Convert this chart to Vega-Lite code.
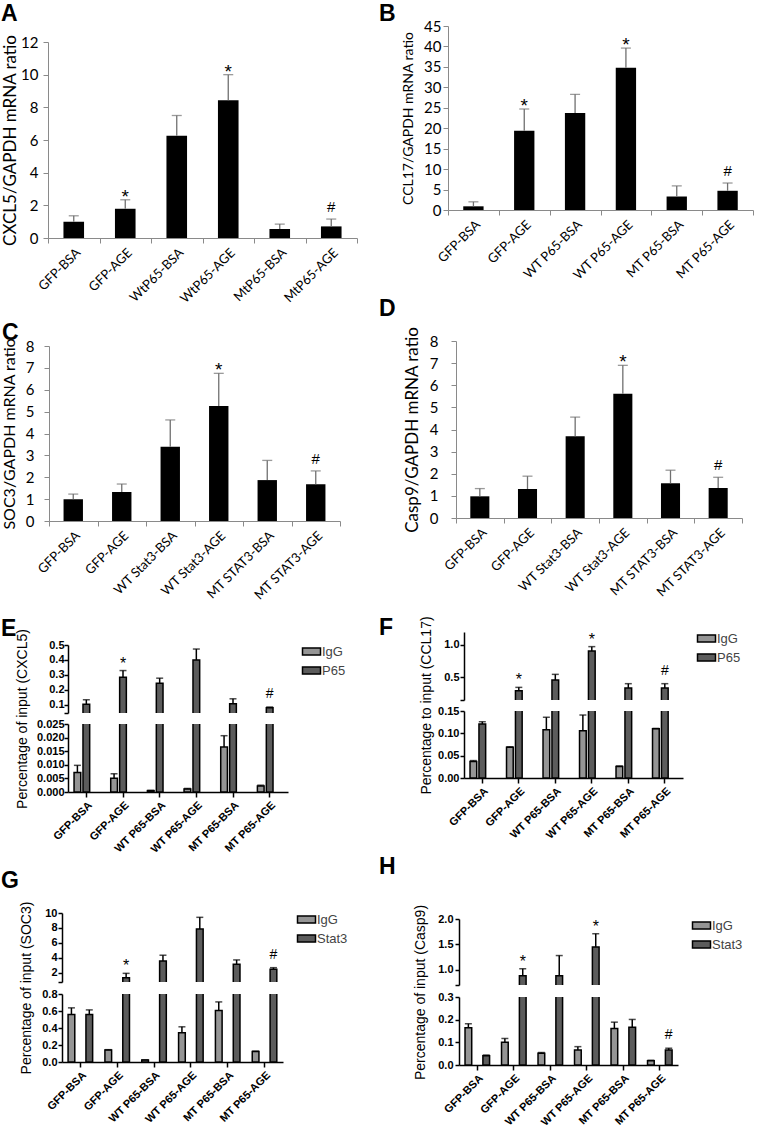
{
"$schema":"https://vega.github.io/schema/vega-lite/v6.json",
"padding":{"left":0,"top":2,"right":0,"bottom":0},
"background":"white",
"config":{"view":{"stroke":null},"axis":{"labelOverlap":false},"text":{"color":"black"}},
"datasets":{
"A":[{"g":"GFP-BSA","v":1.0,"e":1.36,"s":""},{"g":"GFP-AGE","v":1.79,"e":2.34,"s":"*"},{"g":"WtP65-BSA","v":6.26,"e":7.5,"s":""},{"g":"WtP65-AGE","v":8.43,"e":10.0,"s":"*"},{"g":"MtP65-BSA","v":0.55,"e":0.85,"s":""},{"g":"MtP65-AGE","v":0.71,"e":1.16,"s":"#"}],
"B":[{"g":"GFP-BSA","v":0.9,"e":2.0,"s":""},{"g":"GFP-AGE","v":19.4,"e":24.7,"s":"*"},{"g":"WT P65-BSA","v":23.7,"e":28.3,"s":""},{"g":"WT P65-AGE","v":34.8,"e":39.6,"s":"*"},{"g":"MT P65-BSA","v":3.3,"e":5.9,"s":""},{"g":"MT P65-AGE","v":4.7,"e":6.6,"s":"#"}],
"C":[{"g":"GFP-BSA","v":0.99,"e":1.23,"s":""},{"g":"GFP-AGE","v":1.33,"e":1.69,"s":""},{"g":"WT Stat3-BSA","v":3.4,"e":4.62,"s":""},{"g":"WT Stat3-AGE","v":5.26,"e":6.75,"s":"*"},{"g":"MT STAT3-BSA","v":1.87,"e":2.77,"s":""},{"g":"MT STAT3-AGE","v":1.68,"e":2.29,"s":"#"}],
"D":[{"g":"GFP-BSA","v":0.98,"e":1.33,"s":""},{"g":"GFP-AGE","v":1.31,"e":1.89,"s":""},{"g":"WT Stat3-BSA","v":3.7,"e":4.56,"s":""},{"g":"WT Stat3-AGE","v":5.62,"e":6.9,"s":"*"},{"g":"MT STAT3-BSA","v":1.57,"e":2.16,"s":""},{"g":"MT STAT3-AGE","v":1.36,"e":1.84,"s":"#"}],
"E":[{"g":"GFP-BSA","ab":"IgG","v":0.0072,"e":0.0098,"s":""},{"g":"GFP-BSA","ab":"P65","v":0.104,"e":0.133,"s":""},
{"g":"GFP-AGE","ab":"IgG","v":0.0051,"e":0.0067,"s":""},{"g":"GFP-AGE","ab":"P65","v":0.284,"e":0.329,"s":"*"},
{"g":"WT P65-BSA","ab":"IgG","v":0.0005,"e":0.0006,"s":""},{"g":"WT P65-BSA","ab":"P65","v":0.244,"e":0.278,"s":""},
{"g":"WT P65-AGE","ab":"IgG","v":0.0011,"e":0.0013,"s":""},{"g":"WT P65-AGE","ab":"P65","v":0.40,"e":0.473,"s":"*"},
{"g":"MT P65-BSA","ab":"IgG","v":0.0165,"e":0.0207,"s":""},{"g":"MT P65-BSA","ab":"P65","v":0.107,"e":0.14,"s":""},
{"g":"MT P65-AGE","ab":"IgG","v":0.0022,"e":0.0025,"s":""},{"g":"MT P65-AGE","ab":"P65","v":0.08,"e":0.085,"s":"#"}],
"F":[{"g":"GFP-BSA","ab":"IgG","v":0.037,"e":0.039,"s":""},{"g":"GFP-BSA","ab":"P65","v":0.121,"e":0.126,"s":""},
{"g":"GFP-AGE","ab":"IgG","v":0.069,"e":0.070,"s":""},{"g":"GFP-AGE","ab":"P65","v":0.294,"e":0.345,"s":"*"},
{"g":"WT P65-BSA","ab":"IgG","v":0.108,"e":0.136,"s":""},{"g":"WT P65-BSA","ab":"P65","v":0.459,"e":0.546,"s":""},
{"g":"WT P65-AGE","ab":"IgG","v":0.106,"e":0.141,"s":""},{"g":"WT P65-AGE","ab":"P65","v":0.907,"e":0.974,"s":"*"},
{"g":"MT P65-BSA","ab":"IgG","v":0.026,"e":0.027,"s":""},{"g":"MT P65-BSA","ab":"P65","v":0.335,"e":0.402,"s":""},
{"g":"MT P65-AGE","ab":"IgG","v":0.11,"e":0.111,"s":""},{"g":"MT P65-AGE","ab":"P65","v":0.335,"e":0.402,"s":"#"}],
"G":[{"g":"GFP-BSA","ab":"IgG","v":0.559,"e":0.637,"s":""},{"g":"GFP-BSA","ab":"Stat3","v":0.559,"e":0.613,"s":""},
{"g":"GFP-AGE","ab":"IgG","v":0.141,"e":0.145,"s":""},{"g":"GFP-AGE","ab":"Stat3","v":1.33,"e":1.91,"s":"*"},
{"g":"WT P65-BSA","ab":"IgG","v":0.023,"e":0.025,"s":""},{"g":"WT P65-BSA","ab":"Stat3","v":3.57,"e":4.34,"s":""},
{"g":"WT P65-AGE","ab":"IgG","v":0.344,"e":0.414,"s":""},{"g":"WT P65-AGE","ab":"Stat3","v":7.84,"e":9.42,"s":"*"},
{"g":"MT P65-BSA","ab":"IgG","v":0.605,"e":0.707,"s":""},{"g":"MT P65-BSA","ab":"Stat3","v":3.12,"e":3.71,"s":""},
{"g":"MT P65-AGE","ab":"IgG","v":0.125,"e":0.128,"s":""},{"g":"MT P65-AGE","ab":"Stat3","v":2.45,"e":2.67,"s":"#"}],
"H":[{"g":"GFP-BSA","ab":"IgG","v":0.164,"e":0.182,"s":""},{"g":"GFP-BSA","ab":"Stat3","v":0.041,"e":0.044,"s":""},
{"g":"GFP-AGE","ab":"IgG","v":0.1,"e":0.117,"s":""},{"g":"GFP-AGE","ab":"Stat3","v":0.884,"e":1.02,"s":"*"},
{"g":"WT P65-BSA","ab":"IgG","v":0.052,"e":0.055,"s":""},{"g":"WT P65-BSA","ab":"Stat3","v":0.884,"e":1.28,"s":""},
{"g":"WT P65-AGE","ab":"IgG","v":0.066,"e":0.081,"s":""},{"g":"WT P65-AGE","ab":"Stat3","v":1.45,"e":1.71,"s":"*"},
{"g":"MT P65-BSA","ab":"IgG","v":0.161,"e":0.189,"s":""},{"g":"MT P65-BSA","ab":"Stat3","v":0.167,"e":0.201,"s":""},
{"g":"MT P65-AGE","ab":"IgG","v":0.019,"e":0.021,"s":""},{"g":"MT P65-AGE","ab":"Stat3","v":0.066,"e":0.074,"s":"#"}]
},
"spacing":20,
"resolve":{"scale":{"fill":"independent"},"legend":{"fill":"independent"}},
"hconcat":[
{"spacing":0,"resolve":{"scale":{"fill":"independent"},"legend":{"fill":"independent"}},
 "vconcat":[
 {"width":1,"height":1,"data":{"values":[]},"mark":"point"},
 {"spacing":15,"resolve":{"scale":{"fill":"independent"},"legend":{"fill":"independent"}},
  "vconcat":[
  {"spacing":0,"hconcat":[
   {"width":1,"height":1,"data":{"values":[]},"mark":"point"},
   {"width":309,"height":196,
    "title":{"text":"A","anchor":"start","frame":"group","dx":-47,"offset":8,"fontSize":23,"font":"Liberation Sans","fontWeight":"bold","color":"black"},
    "data":{"name":"A"},
    "resolve":{"axis":{"y":"independent"}},
    "encoding":{"x":{"field":"g","type":"nominal","sort":null,"scale":{"paddingInner":0,"paddingOuter":0},"axis":{"title":null,"labelAngle":-45,"tickBand":"extent","domainColor":"#8a8a8a","tickColor":"#8a8a8a","tickSize":5,"labelFont":"Lato","labelFontSize":13,"labelColor":"black","labelPadding":3}}},
    "layer":[
     {"mark":{"type":"bar","color":"black","width":{"band":0.4}},"encoding":{"y":{"field":"v","type":"quantitative","scale":{"domain":[0,12],"nice":false},"axis":{"title":"CXCL5/GAPDH mRNA ratio","values":[0,2,4,6,8,10,12],"labelOverlap":false,"grid":false,"domainColor":"#8a8a8a","tickColor":"#8a8a8a","tickSize":5,"labelFont":"Lato","labelFontSize":15,"labelColor":"black","labelPadding":5,"titleFont":"Lato","titleFontSize":17,"titleFontWeight":"normal","titleColor":"black","titlePadding":1}}}},
     {"mark":{"type":"rule","color":"#707070","strokeWidth":1.3},"encoding":{"y":{"field":"v","type":"quantitative","axis":null},"y2":{"field":"e"}}},
     {"mark":{"type":"tick","color":"#707070","thickness":1.3,"size":10},"encoding":{"y":{"field":"e","type":"quantitative","axis":null}}},
     {"transform":[{"filter":"datum.s=='*'"}],"mark":{"type":"text","color":"black","font":"Liberation Sans","fontSize":19,"baseline":"alphabetic","dy":3},"encoding":{"y":{"field":"e","type":"quantitative","axis":null},"text":{"field":"s"}}},
     {"transform":[{"filter":"datum.s=='#'"}],"mark":{"type":"text","color":"black","font":"Liberation Sans","fontSize":15,"baseline":"alphabetic","dy":-7},"encoding":{"y":{"field":"e","type":"quantitative","axis":null},"text":{"field":"s"}}}
    ]}]},
  {"spacing":0,"hconcat":[
   {"width":1,"height":1,"data":{"values":[]},"mark":"point"},
   {"width":291,"height":175,
    "title":{"text":"C","anchor":"start","frame":"group","dx":-47,"offset":-7,"fontSize":23,"font":"Liberation Sans","fontWeight":"bold","color":"black"},
    "data":{"name":"C"},
    "resolve":{"axis":{"y":"independent"}},
    "encoding":{"x":{"field":"g","type":"nominal","sort":null,"scale":{"paddingInner":0,"paddingOuter":0},"axis":{"title":null,"labelAngle":-45,"tickBand":"extent","domainColor":"#8a8a8a","tickColor":"#8a8a8a","tickSize":5,"labelFont":"Lato","labelFontSize":13,"labelColor":"black","labelPadding":3}}},
    "layer":[
     {"mark":{"type":"bar","color":"black","width":{"band":0.4}},"encoding":{"y":{"field":"v","type":"quantitative","scale":{"domain":[0,8],"nice":false},"axis":{"title":"SOC3/GAPDH mRNA ratio","values":[0,1,2,3,4,5,6,7,8],"labelOverlap":false,"grid":false,"domainColor":"#8a8a8a","tickColor":"#8a8a8a","tickSize":5,"labelFont":"Lato","labelFontSize":15,"labelColor":"black","labelPadding":10,"titleFont":"Lato","titleFontSize":16,"titleFontWeight":"normal","titleColor":"black","titlePadding":8}}}},
     {"mark":{"type":"rule","color":"#707070","strokeWidth":1.3},"encoding":{"y":{"field":"v","type":"quantitative","axis":null},"y2":{"field":"e"}}},
     {"mark":{"type":"tick","color":"#707070","thickness":1.3,"size":10},"encoding":{"y":{"field":"e","type":"quantitative","axis":null}}},
     {"transform":[{"filter":"datum.s=='*'"}],"mark":{"type":"text","color":"black","font":"Liberation Sans","fontSize":19,"baseline":"alphabetic","dy":3},"encoding":{"y":{"field":"e","type":"quantitative","axis":null},"text":{"field":"s"}}},
     {"transform":[{"filter":"datum.s=='#'"}],"mark":{"type":"text","color":"black","font":"Liberation Sans","fontSize":15,"baseline":"alphabetic","dy":-7},"encoding":{"y":{"field":"e","type":"quantitative","axis":null},"text":{"field":"s"}}}
    ]}]},
  {"spacing":0,"resolve":{"scale":{"fill":"independent"},"legend":{"fill":"independent"}},"hconcat":[
   {"width":1,"height":1,"data":{"values":[]},"mark":"point"},
   {"spacing":11,"bounds":"flush","resolve":{"scale":{"fill":"independent"},"legend":{"fill":"independent"}},
    "vconcat":[
     {"width":220,"height":68,
      "title":{"text":"E","anchor":"start","frame":"group","dx":-67,"offset":-2,"fontSize":23,"font":"Liberation Sans","fontWeight":"bold","color":"black"},
      "data":{"name":"E"},
      "resolve":{"axis":{"y":"independent"}},
      "encoding":{"x":{"field":"g","type":"nominal","sort":null,"scale":{"paddingInner":0.33,"paddingOuter":0.165},"axis":null},"xOffset":{"field":"ab","type":"nominal","sort":null,"scale":{"paddingInner":0.25,"paddingOuter":0}}},
      "layer":[
       {"mark":{"type":"bar","clip":true,"stroke":"black","strokeWidth":1.5},"encoding":{"y":{"field":"v","type":"quantitative","scale":{"domain":[0.045,0.5],"nice":false,"zero":false},"axis":{"title":null,"values":[0.045,0.1,0.2,0.3,0.4,0.5],"format":".1f","labelExpr":"datum.value < 0.08 ? '' : datum.label","labelOverlap":false,"grid":false,"domainColor":"black","domainWidth":1.5,"tickColor":"black","tickWidth":1.5,"tickSize":4,"labelFont":"Liberation Sans","labelFontSize":11,"labelFontWeight":"bold","labelColor":"black","labelPadding":0}},"y2":{"datum":0},"fill":{"field":"ab","type":"nominal","sort":null,"scale":{"range":["#959595","#5c5c5c"]},"legend":{"title":null,"offset":17,"symbolType":"M-2,-0.8H2V0.8H-2Z","symbolSize":81,"symbolStrokeColor":"black","symbolStrokeWidth":1.5,"labelFont":"Liberation Sans","labelFontSize":13,"labelColor":"#444","rowPadding":4}}}},
       {"mark":{"type":"rule","clip":true,"color":"black","strokeWidth":1.5},"encoding":{"y":{"field":"v","type":"quantitative","axis":null},"y2":{"field":"e"}}},
       {"transform":[{"filter":"datum.e>=0.045"}],"mark":{"type":"tick","clip":true,"color":"black","thickness":1.5,"size":7},"encoding":{"y":{"field":"e","type":"quantitative","axis":null}}},
       {"transform":[{"filter":"datum.s=='*' && datum.e>=0.045"}],"mark":{"type":"text","color":"black","clip":true,"font":"Liberation Sans","fontSize":16,"baseline":"alphabetic","dy":-2},"encoding":{"y":{"field":"e","type":"quantitative","axis":null},"text":{"field":"s"}}},
       {"transform":[{"filter":"datum.s=='#' && datum.e>=0.045"}],"mark":{"type":"text","color":"black","clip":true,"font":"Liberation Sans","fontSize":14,"baseline":"alphabetic","dy":-9},"encoding":{"y":{"field":"e","type":"quantitative","axis":null},"text":{"field":"s"}}}
      ]},
     {"width":220,"height":68,
      "data":{"name":"E"},
      "resolve":{"axis":{"y":"independent"}},
      "encoding":{"x":{"field":"g","type":"nominal","sort":null,"scale":{"paddingInner":0.33,"paddingOuter":0.165},"axis":{"title":null,"labelAngle":-45,"domainColor":"black","domainWidth":1.5,"tickColor":"black","tickWidth":1.5,"tickSize":5,"labelFont":"Liberation Sans","labelFontSize":11,"labelFontWeight":"bold","labelColor":"black","labelPadding":2}},"xOffset":{"field":"ab","type":"nominal","sort":null,"scale":{"paddingInner":0.25,"paddingOuter":0}}},
      "layer":[
       {"mark":{"type":"bar","clip":true,"stroke":"black","strokeWidth":1.5},"encoding":{"y":{"field":"v","type":"quantitative","scale":{"domain":[0,0.025],"nice":false},"axis":{"title":"Percentage of input (CXCL5)","titleY":-5.5,"values":[0,0.005,0.01,0.015,0.02,0.025],"format":".3f","labelOverlap":false,"grid":false,"domainColor":"black","domainWidth":1.5,"tickColor":"black","tickWidth":1.5,"tickSize":4,"labelFont":"Liberation Sans","labelFontSize":11,"labelFontWeight":"bold","labelColor":"black","labelPadding":0,"titleFont":"Liberation Sans","titleFontSize":14,"titleFontWeight":"normal","titleColor":"black","titlePadding":7}},"y2":{"datum":0},"fill":{"field":"ab","type":"nominal","sort":null,"scale":{"range":["#959595","#5c5c5c"]},"legend":null}}},
       {"mark":{"type":"rule","clip":true,"color":"black","strokeWidth":1.5},"encoding":{"y":{"field":"v","type":"quantitative","axis":null},"y2":{"field":"e"}}},
       {"mark":{"type":"tick","clip":true,"color":"black","thickness":1.5,"size":7},"encoding":{"y":{"field":"e","type":"quantitative","axis":null}}}
      ]}
    ]}]},
  {"spacing":0,"resolve":{"scale":{"fill":"independent"},"legend":{"fill":"independent"}},"hconcat":[
   {"width":1,"height":1,"data":{"values":[]},"mark":"point"},
   {"spacing":12,"bounds":"flush","resolve":{"scale":{"fill":"independent"},"legend":{"fill":"independent"}},
    "vconcat":[
     {"width":221,"height":69,
      "title":{"text":"G","anchor":"start","frame":"group","dx":-61,"offset":14,"fontSize":23,"font":"Liberation Sans","fontWeight":"bold","color":"black"},
      "data":{"name":"G"},
      "resolve":{"axis":{"y":"independent"}},
      "encoding":{"x":{"field":"g","type":"nominal","sort":null,"scale":{"paddingInner":0.33,"paddingOuter":0.165},"axis":null},"xOffset":{"field":"ab","type":"nominal","sort":null,"scale":{"paddingInner":0.25,"paddingOuter":0}}},
      "layer":[
       {"mark":{"type":"bar","clip":true,"stroke":"black","strokeWidth":1.5},"encoding":{"y":{"field":"v","type":"quantitative","scale":{"domain":[0.75,10],"nice":false,"zero":false},"axis":{"title":null,"values":[0.75,2,4,6,8,10],"labelExpr":"datum.value < 1 ? '' : datum.label","labelOverlap":false,"grid":false,"domainColor":"black","domainWidth":1.5,"tickColor":"black","tickWidth":1.5,"tickSize":4,"labelFont":"Liberation Sans","labelFontSize":11,"labelFontWeight":"bold","labelColor":"black","labelPadding":1}},"y2":{"datum":0},"fill":{"field":"ab","type":"nominal","sort":null,"scale":{"range":["#959595","#5c5c5c"]},"legend":{"title":null,"offset":17,"symbolType":"M-2,-0.8H2V0.8H-2Z","symbolSize":81,"symbolStrokeColor":"black","symbolStrokeWidth":1.5,"labelFont":"Liberation Sans","labelFontSize":13,"labelColor":"#444","rowPadding":4}}}},
       {"mark":{"type":"rule","clip":true,"color":"black","strokeWidth":1.5},"encoding":{"y":{"field":"v","type":"quantitative","axis":null},"y2":{"field":"e"}}},
       {"transform":[{"filter":"datum.e>=0.75"}],"mark":{"type":"tick","clip":true,"color":"black","thickness":1.5,"size":7},"encoding":{"y":{"field":"e","type":"quantitative","axis":null}}},
       {"transform":[{"filter":"datum.s=='*' && datum.e>=0.75"}],"mark":{"type":"text","color":"black","clip":true,"font":"Liberation Sans","fontSize":16,"baseline":"alphabetic","dy":-2},"encoding":{"y":{"field":"e","type":"quantitative","axis":null},"text":{"field":"s"}}},
       {"transform":[{"filter":"datum.s=='#' && datum.e>=0.75"}],"mark":{"type":"text","color":"black","clip":true,"font":"Liberation Sans","fontSize":14,"baseline":"alphabetic","dy":-9},"encoding":{"y":{"field":"e","type":"quantitative","axis":null},"text":{"field":"s"}}}
      ]},
     {"width":221,"height":68,
      "data":{"name":"G"},
      "resolve":{"axis":{"y":"independent"}},
      "encoding":{"x":{"field":"g","type":"nominal","sort":null,"scale":{"paddingInner":0.33,"paddingOuter":0.165},"axis":{"title":null,"labelAngle":-45,"domainColor":"black","domainWidth":1.5,"tickColor":"black","tickWidth":1.5,"tickSize":5,"labelFont":"Liberation Sans","labelFontSize":11,"labelFontWeight":"bold","labelColor":"black","labelPadding":2}},"xOffset":{"field":"ab","type":"nominal","sort":null,"scale":{"paddingInner":0.25,"paddingOuter":0}}},
      "layer":[
       {"mark":{"type":"bar","clip":true,"stroke":"black","strokeWidth":1.5},"encoding":{"y":{"field":"v","type":"quantitative","scale":{"domain":[0,0.8],"nice":false},"axis":{"title":"Percentage of input (SOC3)","titleY":-6.5,"values":[0,0.2,0.4,0.6,0.8],"format":".1f","labelOverlap":false,"grid":false,"domainColor":"black","domainWidth":1.5,"tickColor":"black","tickWidth":1.5,"tickSize":4,"labelFont":"Liberation Sans","labelFontSize":11,"labelFontWeight":"bold","labelColor":"black","labelPadding":1,"titleFont":"Liberation Sans","titleFontSize":14,"titleFontWeight":"normal","titleColor":"black","titlePadding":8}},"y2":{"datum":0},"fill":{"field":"ab","type":"nominal","sort":null,"scale":{"range":["#959595","#5c5c5c"]},"legend":null}}},
       {"mark":{"type":"rule","clip":true,"color":"black","strokeWidth":1.5},"encoding":{"y":{"field":"v","type":"quantitative","axis":null},"y2":{"field":"e"}}},
       {"mark":{"type":"tick","clip":true,"color":"black","thickness":1.5,"size":7},"encoding":{"y":{"field":"e","type":"quantitative","axis":null}}}
      ]}
    ]}]}
  ]}
 ]},
{"spacing":0,"resolve":{"scale":{"fill":"independent"},"legend":{"fill":"independent"}},
 "vconcat":[
 {"width":1,"height":1,"data":{"values":[]},"mark":"point"},
 {"spacing":15,"resolve":{"scale":{"fill":"independent"},"legend":{"fill":"independent"}},
  "vconcat":[
  {"spacing":0,"hconcat":[
   {"width":1,"height":1,"data":{"values":[]},"mark":"point"},
   {"width":305,"height":184,
    "title":{"text":"B","anchor":"start","frame":"group","dx":-69,"offset":-7,"fontSize":23,"font":"Liberation Sans","fontWeight":"bold","color":"black"},
    "data":{"name":"B"},
    "resolve":{"axis":{"y":"independent"}},
    "encoding":{"x":{"field":"g","type":"nominal","sort":null,"scale":{"paddingInner":0,"paddingOuter":0},"axis":{"title":null,"labelAngle":-45,"tickBand":"extent","domainColor":"#8a8a8a","tickColor":"#8a8a8a","tickSize":5,"labelFont":"Lato","labelFontSize":13,"labelColor":"black","labelPadding":3}}},
    "layer":[
     {"mark":{"type":"bar","color":"black","width":{"band":0.4}},"encoding":{"y":{"field":"v","type":"quantitative","scale":{"domain":[0,45],"nice":false},"axis":{"title":"CCL17/GAPDH mRNA ratio","values":[0,5,10,15,20,25,30,35,40,45],"labelOverlap":false,"grid":false,"domainColor":"#8a8a8a","tickColor":"#8a8a8a","tickSize":5,"labelFont":"Lato","labelFontSize":15,"labelColor":"black","labelPadding":2,"titleFont":"Lato","titleFontSize":14,"titleFontWeight":"normal","titleColor":"black","titlePadding":8}}}},
     {"mark":{"type":"rule","color":"#707070","strokeWidth":1.3},"encoding":{"y":{"field":"v","type":"quantitative","axis":null},"y2":{"field":"e"}}},
     {"mark":{"type":"tick","color":"#707070","thickness":1.3,"size":10},"encoding":{"y":{"field":"e","type":"quantitative","axis":null}}},
     {"transform":[{"filter":"datum.s=='*'"}],"mark":{"type":"text","color":"black","font":"Liberation Sans","fontSize":19,"baseline":"alphabetic","dy":3},"encoding":{"y":{"field":"e","type":"quantitative","axis":null},"text":{"field":"s"}}},
     {"transform":[{"filter":"datum.s=='#'"}],"mark":{"type":"text","color":"black","font":"Liberation Sans","fontSize":15,"baseline":"alphabetic","dy":-7},"encoding":{"y":{"field":"e","type":"quantitative","axis":null},"text":{"field":"s"}}}
    ]}]},
  {"spacing":0,"hconcat":[
   {"width":1,"height":1,"data":{"values":[]},"mark":"point"},
   {"width":286,"height":177,
    "title":{"text":"D","anchor":"start","frame":"group","dx":-77,"offset":5,"fontSize":23,"font":"Liberation Sans","fontWeight":"bold","color":"black"},
    "data":{"name":"D"},
    "resolve":{"axis":{"y":"independent"}},
    "encoding":{"x":{"field":"g","type":"nominal","sort":null,"scale":{"paddingInner":0,"paddingOuter":0},"axis":{"title":null,"labelAngle":-45,"tickBand":"extent","domainColor":"#8a8a8a","tickColor":"#8a8a8a","tickSize":5,"labelFont":"Lato","labelFontSize":13,"labelColor":"black","labelPadding":3}}},
    "layer":[
     {"mark":{"type":"bar","color":"black","width":{"band":0.4}},"encoding":{"y":{"field":"v","type":"quantitative","scale":{"domain":[0,8],"nice":false},"axis":{"title":"Casp9/GAPDH mRNA ratio","values":[0,1,2,3,4,5,6,7,8],"labelOverlap":false,"grid":false,"domainColor":"#8a8a8a","tickColor":"#8a8a8a","tickSize":5,"labelFont":"Lato","labelFontSize":15,"labelColor":"black","labelPadding":13,"titleFont":"Lato","titleFontSize":17,"titleFontWeight":"normal","titleColor":"black","titlePadding":8}}}},
     {"mark":{"type":"rule","color":"#707070","strokeWidth":1.3},"encoding":{"y":{"field":"v","type":"quantitative","axis":null},"y2":{"field":"e"}}},
     {"mark":{"type":"tick","color":"#707070","thickness":1.3,"size":10},"encoding":{"y":{"field":"e","type":"quantitative","axis":null}}},
     {"transform":[{"filter":"datum.s=='*'"}],"mark":{"type":"text","color":"black","font":"Liberation Sans","fontSize":19,"baseline":"alphabetic","dy":3},"encoding":{"y":{"field":"e","type":"quantitative","axis":null},"text":{"field":"s"}}},
     {"transform":[{"filter":"datum.s=='#'"}],"mark":{"type":"text","color":"black","font":"Liberation Sans","fontSize":15,"baseline":"alphabetic","dy":-7},"encoding":{"y":{"field":"e","type":"quantitative","axis":null},"text":{"field":"s"}}}
    ]}]},
  {"spacing":0,"resolve":{"scale":{"fill":"independent"},"legend":{"fill":"independent"}},"hconcat":[
   {"width":1,"height":1,"data":{"values":[]},"mark":"point"},
   {"spacing":11,"bounds":"flush","resolve":{"scale":{"fill":"independent"},"legend":{"fill":"independent"}},
    "vconcat":[
     {"width":219,"height":68,
      "title":{"text":"F","anchor":"start","frame":"group","dx":-85,"offset":-8,"fontSize":23,"font":"Liberation Sans","fontWeight":"bold","color":"black"},
      "data":{"name":"F"},
      "resolve":{"axis":{"y":"independent"}},
      "encoding":{"x":{"field":"g","type":"nominal","sort":null,"scale":{"paddingInner":0.33,"paddingOuter":0.165},"axis":null},"xOffset":{"field":"ab","type":"nominal","sort":null,"scale":{"paddingInner":0.25,"paddingOuter":0}}},
      "layer":[
       {"mark":{"type":"bar","clip":true,"stroke":"black","strokeWidth":1.5},"encoding":{"y":{"field":"v","type":"quantitative","scale":{"domain":[0.15,1.2],"nice":false,"zero":false},"axis":{"title":null,"values":[0.15,0.5,1.0],"format":".1f","labelExpr":"datum.value < 0.3 ? '' : datum.label","labelOverlap":false,"grid":false,"domainColor":"black","domainWidth":1.5,"tickColor":"black","tickWidth":1.5,"tickSize":4,"labelFont":"Liberation Sans","labelFontSize":11,"labelFontWeight":"bold","labelColor":"black","labelPadding":1}},"y2":{"datum":0},"fill":{"field":"ab","type":"nominal","sort":null,"scale":{"range":["#959595","#5c5c5c"]},"legend":{"title":null,"offset":17,"symbolType":"M-2,-0.8H2V0.8H-2Z","symbolSize":81,"symbolStrokeColor":"black","symbolStrokeWidth":1.5,"labelFont":"Liberation Sans","labelFontSize":13,"labelColor":"#444","rowPadding":4}}}},
       {"mark":{"type":"rule","clip":true,"color":"black","strokeWidth":1.5},"encoding":{"y":{"field":"v","type":"quantitative","axis":null},"y2":{"field":"e"}}},
       {"transform":[{"filter":"datum.e>=0.15"}],"mark":{"type":"tick","clip":true,"color":"black","thickness":1.5,"size":7},"encoding":{"y":{"field":"e","type":"quantitative","axis":null}}},
       {"transform":[{"filter":"datum.s=='*' && datum.e>=0.15"}],"mark":{"type":"text","color":"black","clip":true,"font":"Liberation Sans","fontSize":16,"baseline":"alphabetic","dy":-2},"encoding":{"y":{"field":"e","type":"quantitative","axis":null},"text":{"field":"s"}}},
       {"transform":[{"filter":"datum.s=='#' && datum.e>=0.15"}],"mark":{"type":"text","color":"black","clip":true,"font":"Liberation Sans","fontSize":14,"baseline":"alphabetic","dy":-9},"encoding":{"y":{"field":"e","type":"quantitative","axis":null},"text":{"field":"s"}}}
      ]},
     {"width":219,"height":67,
      "data":{"name":"F"},
      "resolve":{"axis":{"y":"independent"}},
      "encoding":{"x":{"field":"g","type":"nominal","sort":null,"scale":{"paddingInner":0.33,"paddingOuter":0.165},"axis":{"title":null,"labelAngle":-45,"domainColor":"black","domainWidth":1.5,"tickColor":"black","tickWidth":1.5,"tickSize":5,"labelFont":"Liberation Sans","labelFontSize":11,"labelFontWeight":"bold","labelColor":"black","labelPadding":2}},"xOffset":{"field":"ab","type":"nominal","sort":null,"scale":{"paddingInner":0.25,"paddingOuter":0}}},
      "layer":[
       {"mark":{"type":"bar","clip":true,"stroke":"black","strokeWidth":1.5},"encoding":{"y":{"field":"v","type":"quantitative","scale":{"domain":[0,0.15],"nice":false},"axis":{"title":"Percentage to input (CCL17)","titleY":-6,"values":[0,0.05,0.1,0.15],"format":".2f","labelOverlap":false,"grid":false,"domainColor":"black","domainWidth":1.5,"tickColor":"black","tickWidth":1.5,"tickSize":4,"labelFont":"Liberation Sans","labelFontSize":11,"labelFontWeight":"bold","labelColor":"black","labelPadding":1,"titleFont":"Liberation Sans","titleFontSize":14,"titleFontWeight":"normal","titleColor":"black","titlePadding":4}},"y2":{"datum":0},"fill":{"field":"ab","type":"nominal","sort":null,"scale":{"range":["#959595","#5c5c5c"]},"legend":null}}},
       {"mark":{"type":"rule","clip":true,"color":"black","strokeWidth":1.5},"encoding":{"y":{"field":"v","type":"quantitative","axis":null},"y2":{"field":"e"}}},
       {"mark":{"type":"tick","clip":true,"color":"black","thickness":1.5,"size":7},"encoding":{"y":{"field":"e","type":"quantitative","axis":null}}}
      ]}
    ]}]},
  {"spacing":0,"resolve":{"scale":{"fill":"independent"},"legend":{"fill":"independent"}},"hconcat":[
   {"width":1,"height":1,"data":{"values":[]},"mark":"point"},
   {"spacing":12,"bounds":"flush","resolve":{"scale":{"fill":"independent"},"legend":{"fill":"independent"}},
    "vconcat":[
     {"width":219,"height":66,
      "title":{"text":"H","anchor":"start","frame":"group","dx":-80,"offset":34,"fontSize":23,"font":"Liberation Sans","fontWeight":"bold","color":"black"},
      "data":{"name":"H"},
      "resolve":{"axis":{"y":"independent"}},
      "encoding":{"x":{"field":"g","type":"nominal","sort":null,"scale":{"paddingInner":0.33,"paddingOuter":0.165},"axis":null},"xOffset":{"field":"ab","type":"nominal","sort":null,"scale":{"paddingInner":0.25,"paddingOuter":0}}},
      "layer":[
       {"mark":{"type":"bar","clip":true,"stroke":"black","strokeWidth":1.5},"encoding":{"y":{"field":"v","type":"quantitative","scale":{"domain":[0.7,2.0],"nice":false,"zero":false},"axis":{"title":null,"values":[0.7,1.0,1.5,2.0],"format":".1f","labelExpr":"datum.value < 0.9 ? '' : datum.label","labelOverlap":false,"grid":false,"domainColor":"black","domainWidth":1.5,"tickColor":"black","tickWidth":1.5,"tickSize":4,"labelFont":"Liberation Sans","labelFontSize":11,"labelFontWeight":"bold","labelColor":"black","labelPadding":2}},"y2":{"datum":0},"fill":{"field":"ab","type":"nominal","sort":null,"scale":{"range":["#959595","#5c5c5c"]},"legend":{"title":null,"offset":17,"symbolType":"M-2,-0.8H2V0.8H-2Z","symbolSize":81,"symbolStrokeColor":"black","symbolStrokeWidth":1.5,"labelFont":"Liberation Sans","labelFontSize":13,"labelColor":"#444","rowPadding":4}}}},
       {"mark":{"type":"rule","clip":true,"color":"black","strokeWidth":1.5},"encoding":{"y":{"field":"v","type":"quantitative","axis":null},"y2":{"field":"e"}}},
       {"transform":[{"filter":"datum.e>=0.7"}],"mark":{"type":"tick","clip":true,"color":"black","thickness":1.5,"size":7},"encoding":{"y":{"field":"e","type":"quantitative","axis":null}}},
       {"transform":[{"filter":"datum.s=='*' && datum.e>=0.7"}],"mark":{"type":"text","color":"black","clip":true,"font":"Liberation Sans","fontSize":16,"baseline":"alphabetic","dy":-2},"encoding":{"y":{"field":"e","type":"quantitative","axis":null},"text":{"field":"s"}}}
      ]},
     {"width":219,"height":68,
      "data":{"name":"H"},
      "resolve":{"axis":{"y":"independent"}},
      "encoding":{"x":{"field":"g","type":"nominal","sort":null,"scale":{"paddingInner":0.33,"paddingOuter":0.165},"axis":{"title":null,"labelAngle":-45,"domainColor":"black","domainWidth":1.5,"tickColor":"black","tickWidth":1.5,"tickSize":5,"labelFont":"Liberation Sans","labelFontSize":11,"labelFontWeight":"bold","labelColor":"black","labelPadding":2}},"xOffset":{"field":"ab","type":"nominal","sort":null,"scale":{"paddingInner":0.25,"paddingOuter":0}}},
      "layer":[
       {"mark":{"type":"bar","clip":true,"stroke":"black","strokeWidth":1.5},"encoding":{"y":{"field":"v","type":"quantitative","scale":{"domain":[0,0.3],"nice":false},"axis":{"title":"Percentage of input (Casp9)","titleY":-5,"values":[0,0.1,0.2,0.3],"format":".1f","labelOverlap":false,"grid":false,"domainColor":"black","domainWidth":1.5,"tickColor":"black","tickWidth":1.5,"tickSize":4,"labelFont":"Liberation Sans","labelFontSize":11,"labelFontWeight":"bold","labelColor":"black","labelPadding":2,"titleFont":"Liberation Sans","titleFontSize":14,"titleFontWeight":"normal","titleColor":"black","titlePadding":10}},"y2":{"datum":0},"fill":{"field":"ab","type":"nominal","sort":null,"scale":{"range":["#959595","#5c5c5c"]},"legend":null}}},
       {"mark":{"type":"rule","clip":true,"color":"black","strokeWidth":1.5},"encoding":{"y":{"field":"v","type":"quantitative","axis":null},"y2":{"field":"e"}}},
       {"mark":{"type":"tick","clip":true,"color":"black","thickness":1.5,"size":7},"encoding":{"y":{"field":"e","type":"quantitative","axis":null}}},
       {"transform":[{"filter":"datum.s=='#' && datum.e<=0.3"}],"mark":{"type":"text","color":"black","clip":true,"font":"Liberation Sans","fontSize":14,"baseline":"alphabetic","dy":-9},"encoding":{"y":{"field":"e","type":"quantitative","axis":null},"text":{"field":"s"}}}
      ]}
    ]}]}
  ]}
 ]}
]
}
